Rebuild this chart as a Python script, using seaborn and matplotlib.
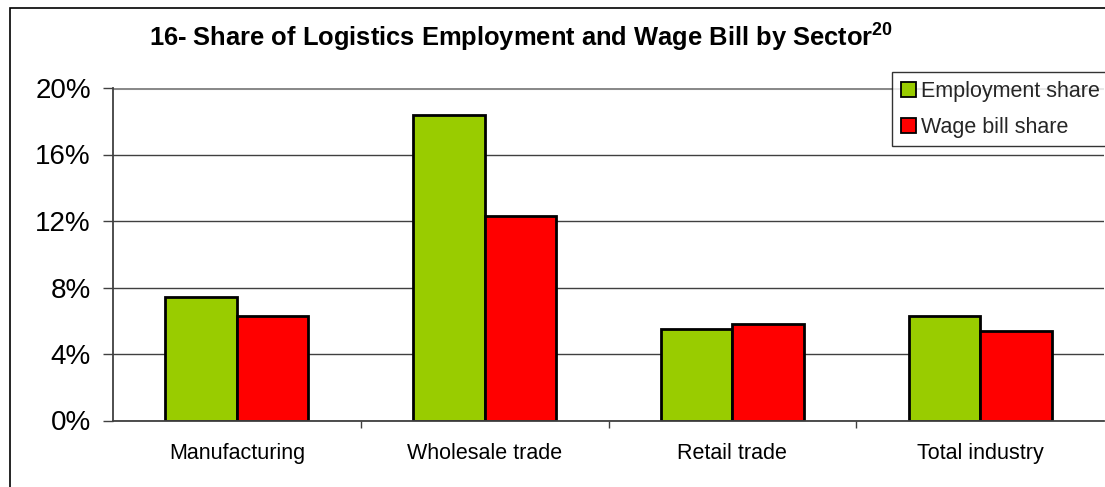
import matplotlib
matplotlib.use("Agg")
import matplotlib.pyplot as plt
import matplotlib.patches as mpatches
from matplotlib.ticker import FixedLocator, FuncFormatter
import pandas as pd
import seaborn as sns

# Shares of logistics employment and wage bill, percent
sectors = ["Manufacturing", "Wholesale trade", "Retail trade", "Total industry"]
employment_share = [7.4, 18.4, 5.5, 6.3]
wage_bill_share = [6.3, 12.3, 5.8, 5.4]
series_names = ["Employment share", "Wage bill share"]
y_ticks = [0, 4, 8, 12, 16, 20]

df = pd.DataFrame({
    "sector": sectors * 2,
    "share": employment_share + wage_bill_share,
    "series": [series_names[0]] * len(sectors) + [series_names[1]] * len(sectors),
})

sns.set_theme(style="white")
plt.rcParams["font.family"] = ["Liberation Sans", "DejaVu Sans"]
plt.rcParams["mathtext.fontset"] = "custom"
plt.rcParams["mathtext.bf"] = "Liberation Sans:bold"
plt.rcParams["mathtext.rm"] = "Liberation Sans"

fig = plt.figure(figsize=(11.05, 4.87), dpi=100)
fig.patch.set_facecolor("white")
ax = fig.add_axes([113 / 1105, 1 - 420.5 / 487, (1104 - 113) / 1105, (420.5 - 88) / 487])

palette = {series_names[0]: "#99CC00", series_names[1]: "#FF0000"}
sns.barplot(data=df, x="sector", y="share", hue="series", order=sectors,
            hue_order=series_names, palette=palette, width=0.577, gap=0,
            edgecolor="black", linewidth=2.0, saturation=1, ax=ax, legend=False)

ax.set_xlim(-0.5, len(sectors) - 0.5)
ax.set_ylim(0, 20)
ax.set_xlabel("")
ax.set_ylabel("")

# y axis: percent labels, outward ticks, horizontal gridlines
ax.yaxis.set_major_locator(FixedLocator(y_ticks))
ax.yaxis.set_major_formatter(FuncFormatter(lambda v, p: f"{v:.0f}%"))
ax.tick_params(axis="y", which="major", direction="out", length=7, width=1,
               color="#404040", pad=9, labelsize=20, left=True, labelcolor="black")
ax.yaxis.grid(True, color="#404040", linewidth=1)
ax.set_axisbelow(True)
gl = ax.get_ygridlines()
gl[-1].set_color("#8a8a8a")
gl[-1].set_linewidth(2.2)

# x axis: labels centred on groups, tick marks between groups
ax.tick_params(axis="x", which="major", length=0, pad=16, labelsize=15.5, labelcolor="black")
ax.xaxis.set_minor_locator(FixedLocator([i + 0.5 for i in range(len(sectors) - 1)]))
ax.tick_params(axis="x", which="minor", direction="out", length=5, width=1,
               color="#404040", bottom=True)

for side in ["top", "right"]:
    ax.spines[side].set_visible(False)
for side in ["left", "bottom"]:
    ax.spines[side].set_color("#404040")
    ax.spines[side].set_linewidth(1.3)

# Legend with small square swatches
handles = [mpatches.Patch(facecolor=palette[n], edgecolor="black", linewidth=1.3, label=n)
           for n in series_names]
leg = fig.legend(handles=handles, loc="upper left",
                 bbox_to_anchor=(892 / 1105, 1 - 72 / 487), fontsize=15.5,
                 frameon=True, fancybox=False, handlelength=0.7, handleheight=0.7,
                 handletextpad=0.25, labelspacing=0.7, borderpad=0.4,
                 borderaxespad=0)
leg.get_frame().set_edgecolor("black")
leg.get_frame().set_linewidth(1)

# Title with superscript footnote marker
fig.text(0.4715, 1 - 37 / 487,
         r"16- Share of Logistics Employment and Wage Bill by Sector$^{\mathbf{20}}$",
         ha="center", va="center", fontsize=18.4, fontweight="bold", color="black")

# Chart-area frame
frame = mpatches.Rectangle((9.5 / 1105, -0.5), 2, 1.5 - 7.5 / 487, transform=fig.transFigure,
                           fill=False, edgecolor="black", linewidth=1.2, clip_on=False)
fig.patches.append(frame)

fig.savefig("out.png", dpi=100, facecolor="white")
